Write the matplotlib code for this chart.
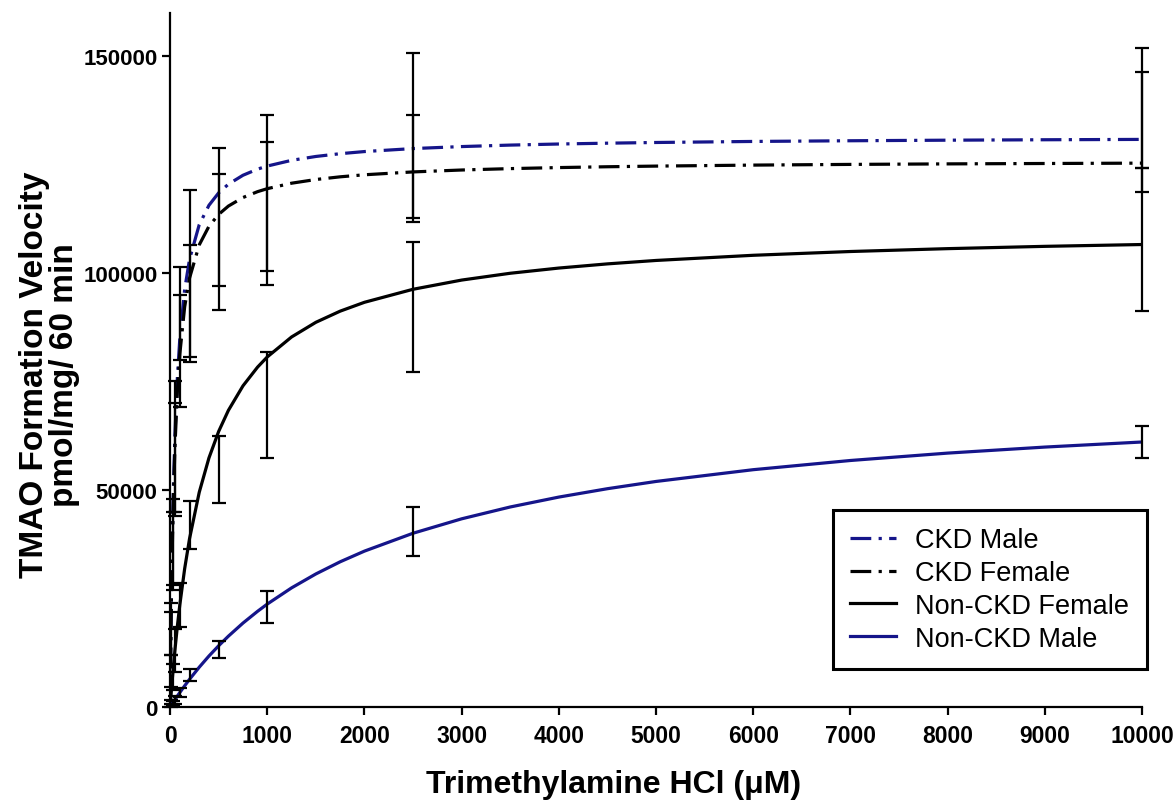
import matplotlib
matplotlib.use("Agg")
import matplotlib.pyplot as plt

x_pts = [10, 25, 50, 100, 200, 500, 1000, 2500, 10000]

ckd_male_mean = [18000, 38000, 60000, 90700, 99900, 112850, 118450, 131600, 138000]
ckd_male_sd = [6000, 10000, 15000, 10700, 19300, 15850, 18050, 19000, 13800]
ckd_female_mean = [17000, 36000, 57000, 82000, 93000, 107100, 113700, 124000, 132500]
ckd_female_sd = [5000, 9000, 13000, 12900, 13400, 15600, 16400, 12300, 13800]
ncf_mean = [3000, 7000, 13000, 23500, 42000, 54700, 69650, 92100, 107700]
ncf_sd = [1500, 3000, 5000, 5000, 5500, 7800, 12250, 15000, 16400]
ncm_mean = [400, 900, 1700, 3300, 7400, 13300, 23100, 40500, 61000]
ncm_sd = [300, 500, 900, 1000, 1350, 2000, 3700, 5600, 3700]

# Curvas ajustadas, lidas ponto a ponto
x_curve = [0, 5, 10, 15, 25, 35, 50, 75, 100, 150, 200, 300, 400, 500, 600, 750,
           900, 1000, 1250, 1500, 1750, 2000, 2500, 3000, 3500, 4000, 4500, 5000,
           6000, 7000, 8000, 9000, 10000]
ckd_male_curve = [0, 10960, 20230, 28180, 41090, 51140, 62620, 75870, 84840, 96220,
                  103140, 111130, 115600, 118470, 120460, 122520, 123930, 124640,
                  125960, 126850, 127490, 127980, 128670, 129130, 129470, 129720,
                  129910, 130070, 130310, 130470, 130600, 130700, 130780]
ckd_female_curve = [0, 10500, 19380, 27000, 39380, 49000, 60000, 72690, 81290, 92200,
                    98820, 106480, 110770, 113510, 115420, 117390, 118740, 119430,
                    120690, 121540, 122160, 122630, 123290, 123730, 124050, 124290,
                    124480, 124630, 124860, 125020, 125140, 125230, 125310]
ncf_curve = [0, 1473, 2910, 4305, 6990, 9549, 13150, 18620, 23510, 31880, 38770,
             49480, 57400, 63510, 68350, 74000, 78310, 80660, 85260, 88640, 91210,
             93250, 96250, 98370, 99940, 101140, 102100, 102890, 104080, 104950,
             105610, 106140, 106560]
ncm_curve = [0, 174, 347, 520, 862, 1202, 1705, 2530, 3333, 4890, 6380, 9170, 11750,
             14120, 16320, 19340, 22050, 23720, 27450, 30660, 33460, 35920, 40040,
             43360, 46090, 48370, 50300, 51970, 54680, 56800, 58500, 59890, 61060]

nomes = ["CKD Male", "CKD Female", "Non-CKD Female", "Non-CKD Male"]
azul = "#15158a"

plt.rcParams["font.family"] = ["Liberation Sans", "DejaVu Sans"]

fig = plt.figure(figsize=(11.73, 8.04), dpi=100)
ax = fig.add_axes([0.145, 0.1194, 0.8286, 0.8637])

lw = 2.3
traco = [6.5, 2.3, 1.0, 2.3]
ax.plot(x_curve, ckd_male_curve, color=azul, lw=lw, dashes=traco, label=nomes[0])
ax.plot(x_curve, ckd_female_curve, color="black", lw=lw, dashes=traco, label=nomes[1])
ax.plot(x_curve, ncf_curve, color="black", lw=lw, label=nomes[2])
ax.plot(x_curve, ncm_curve, color=azul, lw=lw, label=nomes[3])

for media, dp in [(ckd_male_mean, ckd_male_sd), (ckd_female_mean, ckd_female_sd),
                  (ncf_mean, ncf_sd), (ncm_mean, ncm_sd)]:
    eb = ax.errorbar(x_pts, media, yerr=dp, fmt="none", ecolor="black",
                     elinewidth=1.6, capsize=5, capthick=1.6)
    for a in eb.lines[1] + eb.lines[2]:
        a.set_clip_on(False)

ax.set_xlim(0, 10000)
ax.set_ylim(0, 160000)
ax.set_xticks(range(0, 10001, 1000))
ax.set_yticks([0, 50000, 100000, 150000])

for lado in ["top", "right"]:
    ax.spines[lado].set_visible(False)
for lado in ["left", "bottom"]:
    ax.spines[lado].set_linewidth(1.6)

ax.tick_params(axis="both", direction="out", length=6, width=1.6)
ax.tick_params(axis="x", pad=6)
ax.tick_params(axis="y", labelsize=16, pad=3)
for t in ax.get_xticklabels():
    t.set_fontweight("bold")
    t.set_fontsize(16.5)
    t.set_family(["Liberation Sans Narrow", "Liberation Sans"])
for t in ax.get_yticklabels():
    t.set_fontweight("bold")

ax.set_xlabel("Trimethylamine HCl (\u03bcM)", fontsize=23, fontweight="bold")
ax.xaxis.set_label_coords(0.456, -0.089)
ax.set_ylabel("TMAO Formation Velocity\npmol/mg/ 60 min", fontsize=24,
              fontweight="bold", linespacing=0.95)
ax.yaxis.set_label_coords(-0.0926, 0.48)

leg = ax.legend(loc="upper right", bbox_to_anchor=(1.005, 0.284), fontsize=19.5,
                frameon=True, fancybox=False, framealpha=1, handlelength=1.7,
                handletextpad=0.7, labelspacing=0.25, borderpad=0.65, borderaxespad=0)
leg.get_frame().set_edgecolor("black")
leg.get_frame().set_linewidth(2.2)

fig.savefig("out.png", dpi=100)
